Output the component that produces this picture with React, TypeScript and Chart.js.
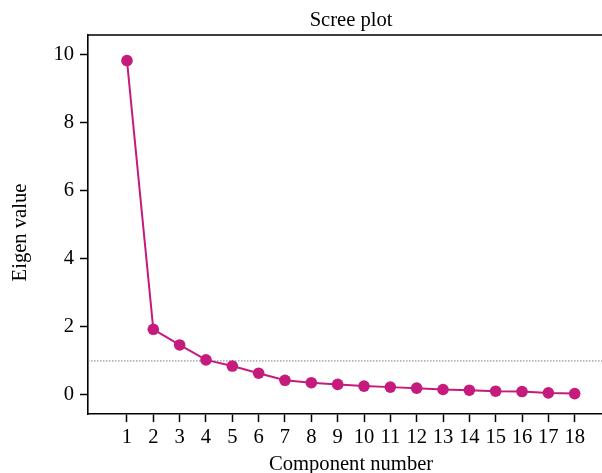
import React, { useEffect, useRef } from "react";
import { Chart, registerables } from "chart.js";

Chart.register(...registerables);

const components = [1, 2, 3, 4, 5, 6, 7, 8, 9, 10, 11, 12, 13, 14, 15, 16, 17, 18];
const eigenValues = [9.83, 1.93, 1.47, 1.03, 0.85, 0.64, 0.43, 0.36, 0.31, 0.26, 0.23, 0.2, 0.16, 0.14, 0.11, 0.1, 0.06, 0.04];
const kaiserLevel = 1;
const yTickValues = [0, 2, 4, 6, 8, 10];
const xLimits = [-0.48, 19.5];
const yLimits = [-0.56, 10.58];
const yAxisTitle = "Eigen value";

const FONT_FAMILY = "'Liberation Serif', 'DejaVu Serif', serif";
const FONT_SIZE = 20.6;
const LINE_COLOR = "#c51b7d";

const frameLines = {
  id: "frameLines",
  afterDatasetsDraw(chart: any) {
    const { ctx, chartArea } = chart;
    ctx.save();
    ctx.strokeStyle = "#000";
    ctx.lineWidth = 1.6;
    ctx.beginPath();
    ctx.moveTo(chartArea.left, chartArea.top);
    ctx.lineTo(chartArea.right, chartArea.top);
    ctx.lineTo(chartArea.right, chartArea.bottom);
    ctx.stroke();
    ctx.restore();
  },
};

const yTitlePlugin = {
  id: "yTitlePlugin",
  afterDraw(chart: any) {
    const { ctx, chartArea } = chart;
    ctx.save();
    ctx.fillStyle = "#000";
    ctx.font = `normal ${FONT_SIZE}px ${FONT_FAMILY}`;
    ctx.textAlign = "center";
    ctx.textBaseline = "middle";
    ctx.translate(21, (chartArea.top + chartArea.bottom) / 2 + 8);
    ctx.rotate(-Math.PI / 2);
    ctx.fillText(yAxisTitle, 0, 0);
    ctx.restore();
  },
};

export default function App() {
  const canvasRef = useRef<HTMLCanvasElement | null>(null);

  useEffect(() => {
    if (!canvasRef.current) return;
    const font = { family: FONT_FAMILY, size: FONT_SIZE, weight: "normal" as const };
    const chart = new Chart(canvasRef.current, {
      type: "line",
      data: {
        datasets: [
          {
            data: components.map((c, i) => ({ x: c, y: eigenValues[i] })),
            borderColor: LINE_COLOR,
            backgroundColor: LINE_COLOR,
            borderWidth: 2,
            pointRadius: 5.8,
            pointBorderWidth: 0,
            pointBackgroundColor: LINE_COLOR,
            tension: 0,
            order: 1,
          },
          {
            data: [
              { x: xLimits[0], y: kaiserLevel },
              { x: xLimits[1], y: kaiserLevel },
            ],
            borderColor: "#7a7a7a",
            borderWidth: 1,
            borderDash: [1.5, 1.5],
            pointRadius: 0,
            order: 2,
          },
        ],
      },
      options: {
        animation: false,
        responsive: false,
        devicePixelRatio: 1,
        layout: { padding: 0 },
        plugins: {
          legend: { display: false },
          tooltip: { enabled: false },
          title: {
            display: true,
            text: "Scree plot",
            fullSize: false,
            color: "#000",
            font,
            padding: { top: 8, bottom: 2.3 },
          },
        },
        scales: {
          x: {
            type: "linear",
            min: xLimits[0],
            max: xLimits[1],
            afterBuildTicks: (s: any) => {
              s.ticks = components.map((v) => ({ value: v }));
            },
            afterFit: (s: any) => {
              s.height = 66;
            },
            ticks: {
              color: "#000",
              font,
              padding: 3,
              autoSkip: false,
              maxRotation: 0,
              callback: (v: any) => String(v),
            },
            grid: {
              drawOnChartArea: false,
              drawTicks: true,
              tickLength: 8,
              tickWidth: 1.5,
              tickColor: "#000",
            },
            border: { display: true, color: "#000", width: 1.6 },
            title: {
              display: true,
              text: "Component number",
              color: "#000",
              font,
              padding: { top: 0, bottom: 2.6 },
            },
          },
          y: {
            type: "linear",
            min: yLimits[0],
            max: yLimits[1],
            afterBuildTicks: (s: any) => {
              s.ticks = yTickValues.map((v) => ({ value: v }));
            },
            afterFit: (s: any) => {
              s.width = 88;
            },
            ticks: {
              color: "#000",
              font,
              padding: 6,
              callback: (v: any) => String(v),
            },
            grid: {
              drawOnChartArea: false,
              drawTicks: true,
              tickLength: 8,
              tickWidth: 1.5,
              tickColor: "#000",
            },
            border: { display: true, color: "#000", width: 1.6 },
            title: { display: false },
          },
        },
      },
      plugins: [frameLines, yTitlePlugin],
    });
    return () => chart.destroy();
  }, []);

  return (
    <div style={{ position: "fixed", left: 0, top: 0, width: 620, height: 480, background: "#fff" }}>
      <canvas ref={canvasRef} width={620} height={480} style={{ display: "block" }} />
    </div>
  );
}
